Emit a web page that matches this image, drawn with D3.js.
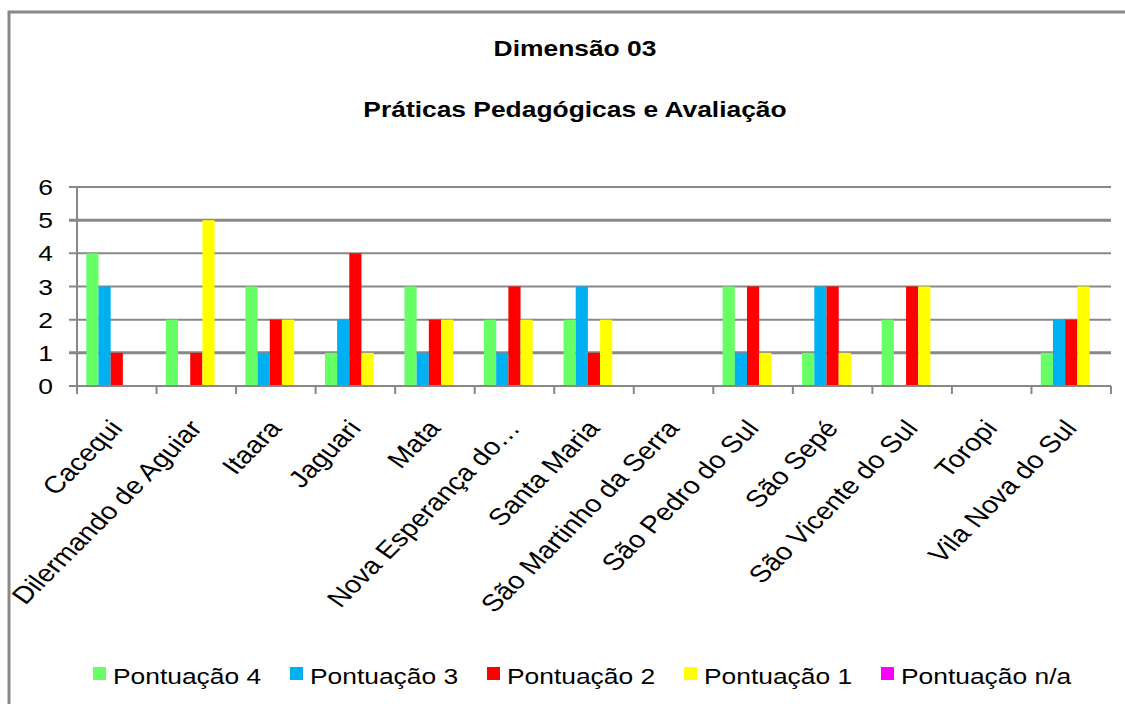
<!DOCTYPE html>
<html>
<head>
<meta charset="utf-8">
<script src="https://cdn.jsdelivr.net/npm/d3@7"></script>
<style>
html, body { margin:0; padding:0; background:#fff; overflow:hidden; }
svg { display:block; }
text { font-family: "Liberation Sans", Arial, sans-serif; fill:#000; }
</style>
</head>
<body>
<div id="chart"></div>
<script>
// municipios
var categories = ["Cacequi","Dilermando de Aguiar","Itaara","Jaguari","Mata","Nova Esperança do…",
	"Santa Maria","São Martinho da Serra","São Pedro do Sul","São Sepé","São Vicente do Sul","Toropi","Vila Nova do Sul"];
var seriesNames = ["Pontuação 4","Pontuação 3","Pontuação 2","Pontuação 1","Pontuação n/a"];
var seriesColors = ["#66ff66","#00b0f0","#ff0000","#ffff00","#ff00ff"];
var pont4 = [4,2,3,1,3,2,2,0,3,1,2,0,1];
var pont3 = [3,0,1,2,1,1,3,0,1,3,0,0,2];
var pont2 = [1,1,2,4,2,3,1,0,3,3,3,0,2];
var pont1 = [0,5,2,1,2,2,2,0,1,1,3,0,3];
var pontNA = [0,0,0,0,0,0,0,0,0,0,0,0,0];
var yTicks = [0,1,2,3,4,5,6];
var titleLines = ["Dimensão 03","Práticas Pedagógicas e Avaliação"];

var W = 1125, H = 704;
var sx = 1.2; // o grafico original esta esticado na horizontal
var pLeft = 77, pRight = 1111, pTop = 187, pBottom = 386;

var svg = d3.select("#chart").append("svg").attr("width",W).attr("height",H)
	.style("overflow","hidden");

svg.append("rect").attr("width",W).attr("height",H).attr("fill","#fff");

// moldura
svg.append("rect").attr("x",9).attr("y",12).attr("width",1200).attr("height",800)
	.attr("fill","none").attr("stroke","#888").attr("stroke-width",3);

svg.selectAll("text.title").data(titleLines).enter().append("text")
	.attr("class","title")
	.attr("transform",function(d,i){ return "translate(575," + (i==0 ? 56 : 117) + ") scale(" + sx + ",1)"; })
	.attr("text-anchor","middle")
	.style("font-weight","bold").style("font-size","22px")
	.text(function(d){ return d; });

var x0 = d3.scaleBand().domain(categories).range([pLeft,pRight]).padding(0);
var x1 = d3.scaleBand().domain(seriesNames).range([9.3, x0.bandwidth()-9.3]).padding(0);
var y = d3.scaleLinear().domain([0,6]).range([pBottom,pTop]);

// grade (as linhas 1 e 5 saem mais grossas no original)
svg.selectAll("line.grid").data(yTicks).enter().append("line")
	.attr("class","grid")
	.attr("x1",pLeft-8).attr("x2",pRight)
	.attr("y1",function(d){ return y(d); }).attr("y2",function(d){ return y(d); })
	.attr("stroke","#888").attr("stroke-width",function(d){ return (d==1||d==5) ? 3 : 2; });

var values = [pont4,pont3,pont2,pont1,pontNA];
var rows = categories.map(function(c,i){
	return seriesNames.map(function(s,j){ return {cat:c, serie:s, v:values[j][i], color:seriesColors[j]}; });
});

var groups = svg.selectAll("g.grp").data(rows).enter().append("g")
	.attr("class","grp")
	.attr("transform",function(d,i){ return "translate(" + x0(categories[i]) + ",0)"; });
groups.selectAll("rect").data(function(d){ return d; }).enter().append("rect")
	.attr("x",function(d){ return x1(d.serie); })
	.attr("width",x1.bandwidth())
	.attr("y",function(d){ return y(d.v); })
	.attr("height",function(d){ return y(0) - y(d.v); })
	.attr("fill",function(d){ return d.color; });

// eixo y
svg.append("line").attr("x1",pLeft).attr("x2",pLeft).attr("y1",pTop).attr("y2",pBottom)
	.attr("stroke","#888").attr("stroke-width",2);
svg.selectAll("text.ylab").data(yTicks).enter().append("text")
	.attr("class","ylab")
	.attr("transform",function(d){ return "translate(53," + (y(d)+8) + ") scale(" + sx + ",1)"; })
	.attr("text-anchor","end").style("font-size","22px")
	.text(function(d){ return d; });

// eixo x
svg.append("line").attr("x1",pLeft).attr("x2",pRight).attr("y1",pBottom).attr("y2",pBottom)
	.attr("stroke","#888").attr("stroke-width",2);
var bounds = categories.map(function(c){ return x0(c); }).concat([pRight]);
svg.selectAll("line.xtick").data(bounds).enter().append("line")
	.attr("class","xtick")
	.attr("x1",function(d){ return d; }).attr("x2",function(d){ return d; })
	.attr("y1",pBottom).attr("y2",pBottom+8)
	.attr("stroke","#888").attr("stroke-width",2);

svg.selectAll("text.xlab").data(categories).enter().append("text")
	.attr("class","xlab")
	.attr("transform",function(d){
		return "translate(" + (x0(d) + x0.bandwidth()/2 + 7) + ",429) scale(" + sx + ",1) rotate(-50)";
	})
	.attr("text-anchor","end").style("font-size","24px")
	.text(function(d){ return d; });

// legenda
var leg = svg.selectAll("g.leg").data(seriesNames).enter().append("g")
	.attr("class","leg")
	.attr("transform",function(d,i){ return "translate(" + (93 + i*197) + ",667)"; });
leg.append("rect").attr("width",13).attr("height",13)
	.attr("fill",function(d,i){ return seriesColors[i]; });
leg.append("text").attr("transform","translate(20,17) scale(" + sx + ",1)")
	.style("font-size","22px")
	.text(function(d){ return d; });
</script>
</body>
</html>
